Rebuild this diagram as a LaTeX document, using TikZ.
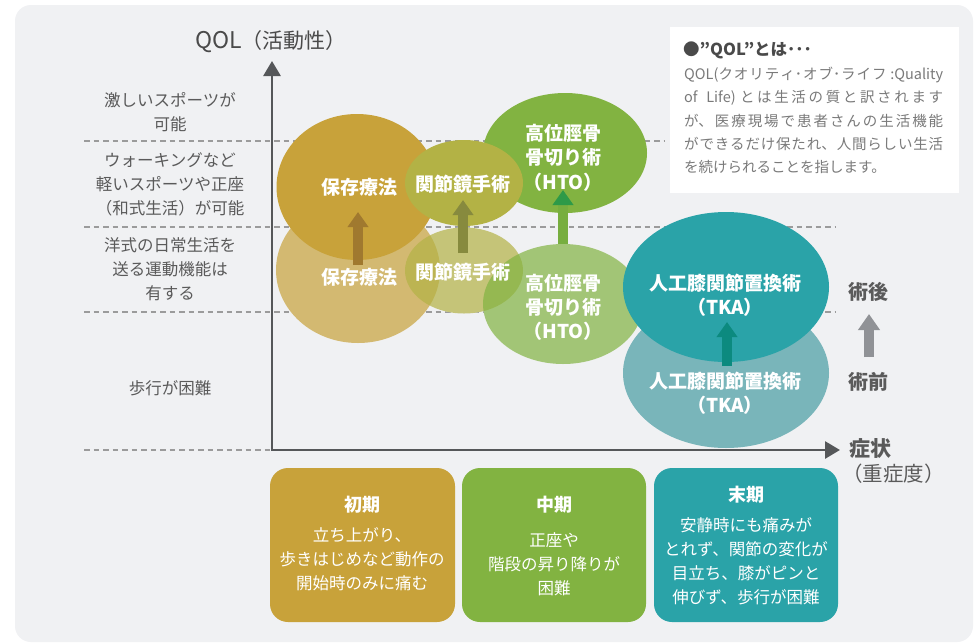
\documentclass[tikz,border=0pt]{standalone}
\usepackage{fontspec}
\setmainfont{Noto Sans CJK JP}
\usetikzlibrary{arrows.meta}
\definecolor{bgpanel}{HTML}{F0F1F3}
\definecolor{txtgray}{HTML}{5A5A5A}
\definecolor{titlegray}{HTML}{4A4A4A}
\definecolor{infogray}{HTML}{7A7A7A}
\definecolor{dashgray}{HTML}{9B9B9B}
\definecolor{axisgray}{HTML}{555759}
\definecolor{cgold}{HTML}{C8A23A}
\definecolor{colive}{HTML}{B3B245}
\definecolor{cgreen}{HTML}{82B341}
\definecolor{cteal}{HTML}{2AA3A8}
\definecolor{ctealL}{HTML}{79B5BA}
\definecolor{agold}{HTML}{A0792F}
\definecolor{aolive}{HTML}{878A3E}
\definecolor{ahtoshaft}{HTML}{77AE3F}
\definecolor{ahtohead}{HTML}{2E9A48}
\definecolor{atka}{HTML}{0C8A7F}
\definecolor{agray}{HTML}{909296}
\begin{document}
\begin{tikzpicture}[x=1pt,y=-1pt,
  lefttxt/.style={font=\fontsize{16.5}{24}\selectfont, text=txtgray, align=center, inner sep=0pt},
  ovaltxt/.style={font=\bfseries\fontsize{19}{24.5}\selectfont, text=white, align=center, inner sep=0pt},
  boxtitle/.style={font=\bfseries\fontsize{18}{24}\selectfont, text=white, inner sep=0pt},
  boxbody/.style={font=\fontsize{16.5}{24}\selectfont, text=white, align=center, inner sep=0pt},
  sidetxt/.style={font=\bfseries\fontsize{20}{24}\selectfont, text=txtgray, inner sep=0pt},
  stagebox/.style={rounded corners=18pt},
  dashline/.style={draw=dashgray, line width=2pt, dash pattern=on 5.5pt off 4pt},
  fatarrow/.style={line width=9.5pt, -{Triangle[width=20pt,length=15pt]}},
  axisline/.style={draw=axisgray, line width=2.8pt,
     {Triangle[width=17pt,length=15pt]}-{Triangle[width=17pt,length=15pt]}},
]
\useasboundingbox (0,0) rectangle (974,643);
\fill[white] (0,0) rectangle (974,643);
\fill[bgpanel, rounded corners=16pt] (15,5) rectangle (973,642);

% info box
\fill[white] (670,27) rectangle (959,193);
\node[anchor=west, font=\bfseries\fontsize{16.5}{20}\selectfont, text=titlegray, inner sep=0pt] (qoltitle) at (683,50) {●”QOL”とは･･･};
\node[anchor=north west, text width=259pt, align=justify, font=\fontsize{14.5}{23.2}\selectfont, text=infogray, inner sep=0pt] (qolbody) at (684,67)
 {\XeTeXlinebreaklocale "ja"\XeTeXlinebreakskip=0pt plus 4pt\relax
  QOL(クオリティ･オブ･ライフ :Quality\linebreak of\ \ Life) とは生活の質と訳されます\linebreak が、医療現場で患者さんの生活機能\linebreak ができるだけ保たれ、人間らしい生活\linebreak を続けられることを指します。};

% dashed level lines
\draw[dashline] (84,141) -- (664,141);
\draw[dashline] (84,227) -- (835,227);
\draw[dashline] (84,312) -- (835,312);
\draw[dashline] (84,450) -- (272,450);

% bottom (pre-op) ellipses
\fill[bgpanel] (358,270) ellipse [x radius=82, y radius=73];
\fill[bgpanel] (464,270.5) ellipse [x radius=59, y radius=43];
\fill[bgpanel] (563,304) ellipse [x radius=80, y radius=60];
\fill[cgold, fill opacity=0.7] (358,270) ellipse [x radius=82, y radius=73];
\fill[colive, fill opacity=0.7] (464,270.5) ellipse [x radius=59, y radius=43];
\fill[cgreen, fill opacity=0.7] (563,304) ellipse [x radius=80, y radius=60];
\fill[ctealL] (726,373) ellipse [x radius=103, y radius=75];

% top (post-op) ellipses
\fill[cgold] (357,187) ellipse [x radius=80.5, y radius=73];
\fill[cgreen] (565,153) ellipse [x radius=82, y radius=60];
\fill[colive] (464,183) ellipse [x radius=59, y radius=43];
\fill[cteal] (726,287) ellipse [x radius=103, y radius=75];

% improvement arrows
\coordinate (a1s) at (358,265); \coordinate (a1e) at (358,212);
\coordinate (a2s) at (463,253); \coordinate (a2e) at (463,200);
\coordinate (a3s) at (563,244); \coordinate (a3e) at (563,190);
\coordinate (a4s) at (727,366); \coordinate (a4e) at (727,322);
\coordinate (a5s) at (869,357); \coordinate (a5e) at (869,314);
\draw[fatarrow, draw=agold, fill=agold] (a1s) -- (a1e);
\draw[fatarrow, draw=aolive, fill=aolive] (a2s) -- (a2e);
\draw[line width=9.5pt, draw=ahtoshaft, -{Triangle[width=20pt,length=15pt,color=ahtohead]}] (a3s) -- (a3e);
\draw[fatarrow, draw=atka, fill=atka] (a4s) -- (a4e);
\draw[fatarrow, line width=10pt, draw=agray, fill=agray, -{Triangle[width=21pt,length=16pt]}] (a5s) -- (a5e);

% axes
\coordinate (ytip) at (272,61);
\coordinate (origin) at (272,450);
\coordinate (xtip) at (840,450);
\draw[axisline] (ytip) -- (origin) -- (xtip);

% axis titles
\node[font=\fontsize{21}{24}\selectfont, text=titlegray, inner sep=0pt] (qol) at (271,42) {{\fontsize{23}{24}\selectfont QOL}（活動性）};
\node[anchor=west, font=\bfseries\fontsize{21}{24}\selectfont, text=txtgray, inner sep=0pt] (sym) at (849,448) {症状};
\node[anchor=west, font=\fontsize{20.5}{24}\selectfont, text=txtgray, inner sep=0pt] (sev) at (842,474) {（重症度）};
\node[sidetxt] (post) at (868,292) {術後};
\node[sidetxt] (pre) at (868,382) {術前};

% left level labels
\node[lefttxt] (lv1) at (170,112) {激しいスポーツが\\可能};
\node[lefttxt] (lv2) at (170,184) {ウォーキングなど\\軽いスポーツや正座\\（和式生活）が可能};
\node[lefttxt] (lv3) at (170,269.5) {洋式の日常生活を\\送る運動機能は\\有する};
\node[lefttxt] (lv4) at (170,388) {歩行が困難};

% oval texts
\node[ovaltxt] (hz1) at (359,187) {保存療法};
\node[ovaltxt] (hz0) at (359,277) {保存療法};
\node[ovaltxt] (ks1) at (463,184) {関節鏡手術};
\node[ovaltxt] (ks0) at (463,272) {関節鏡手術};
\node[ovaltxt] (hto1) at (563,157.5) {高位脛骨\\骨切り術\\（HTO）};
\node[ovaltxt, font=\bfseries\fontsize{19}{24}\selectfont] (hto0) at (563,307) {高位脛骨\\骨切り術\\（HTO）};
\node[ovaltxt, font=\bfseries\fontsize{19}{24}\selectfont] (tka1) at (725,295) {人工膝関節置換術\\（TKA）};
\node[ovaltxt, font=\bfseries\fontsize{19}{23.5}\selectfont] (tka0) at (725,393.5) {人工膝関節置換術\\（TKA）};

% stage boxes
\fill[cgold, stagebox] (270,468) rectangle (455,622);
\fill[cgreen, stagebox] (462,468) rectangle (646,622);
\fill[cteal, stagebox] (654,468) rectangle (838,622);
\node[boxtitle] (st1) at (362,505) {初期};
\node[boxbody] (sb1) at (362,559.5) {立ち上がり、\\歩きはじめなど動作の\\開始時のみに痛む};
\node[boxtitle] (st2) at (554,505) {中期};
\node[boxbody] (sb2) at (554,564) {正座や\\階段の昇り降りが\\困難};
\node[boxtitle] (st3) at (746,495) {末期};
\node[boxbody] (sb3) at (746,561) {安静時にも痛みが\\とれず、関節の変化が\\目立ち、膝がピンと\\伸びず、歩行が困難};
\end{tikzpicture}
\end{document}
